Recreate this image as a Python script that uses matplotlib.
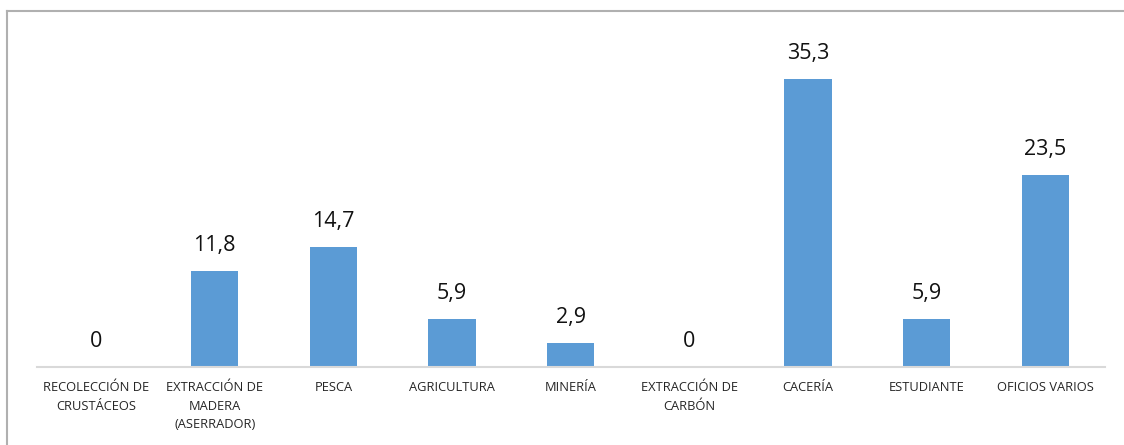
import numpy as np
import matplotlib.pyplot as plt
from matplotlib.lines import Line2D

# occupations and percentages
categorias = ['RECOLECCIÓN DE\nCRUSTÁCEOS', 'EXTRACCIÓN DE\nMADERA\n(ASERRADOR)', 'PESCA',
              'AGRICULTURA', 'MINERÍA', 'EXTRACCIÓN DE\nCARBÓN', 'CACERÍA',
              'ESTUDIANTE', 'OFICIOS VARIOS']
valores = [0, 11.8, 14.7, 5.9, 2.9, 0, 35.3, 5.9, 23.5]
etiquetas = ['0', '11,8', '14,7', '5,9', '2,9', '0', '35,3', '5,9', '23,5']

plt.rcParams['font.family'] = ['Open Sans', 'DejaVu Sans']

fig = plt.figure(figsize=(11.24, 4.45), dpi=100)
ax = fig.add_axes([0.0327, 0.175, 0.950, 0.733])

x = np.arange(len(valores))
ax.bar(x, valores, width=0.4, color='#5b9bd5')
for xi, v, t in zip(x, valores, etiquetas):
    ax.annotate(t, (xi, v), xytext=(0, 15), textcoords='offset pixels',
                ha='center', va='bottom', fontsize=15.5, color='#111111')

ax.set_xlim(-0.5, len(valores) - 0.5)
ax.set_ylim(0, 40)
ax.set_xticks(x)
ax.set_xticklabels(categorias, fontsize=9.3, color='#262626', linespacing=1.55)
ax.tick_params(axis='x', length=0, pad=10)
ax.set_yticks([])
for s in ['top', 'right', 'left']:
    ax.spines[s].set_visible(False)
ax.spines['bottom'].set_color('#d9d9d9')
ax.spines['bottom'].set_linewidth(1.5)

# outer frame (top and left edges)
fig.add_artist(Line2D([7 / 1124, 7 / 1124], [0, 1 - 11 / 445], transform=fig.transFigure,
                      color='#b0b0b0', lw=1.5))
fig.add_artist(Line2D([7 / 1124, 1], [1 - 11 / 445, 1 - 11 / 445], transform=fig.transFigure,
                      color='#b0b0b0', lw=1.5))

plt.savefig('out.png', dpi=100)
